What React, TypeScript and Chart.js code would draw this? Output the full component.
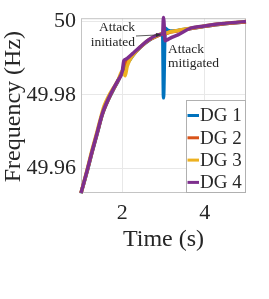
import React, { useEffect, useRef } from 'react';
import { Chart, registerables } from 'chart.js';

Chart.register(...registerables);

const time = [1.0, 1.15, 1.27, 1.39, 1.51, 1.56, 1.66, 1.78, 1.9, 2.0, 2.04, 2.07, 2.12, 2.25, 2.44, 2.65, 2.89, 2.98, 3.0, 3.04, 3.1, 3.2, 3.35, 3.66, 4.0, 4.32, 4.66, 5.0];

const dg1 = [49.9533, 49.9593, 49.9645, 49.9694, 49.9744, 49.976, 49.9786, 49.9813, 49.9838, 49.9862, 49.987, 49.9875, 49.9884, 49.9906, 49.9929, 49.9948, 49.9962, 49.9966, 49.9792, 49.9981, 49.9976, 49.9973, 49.9975, 49.998, 49.9986, 49.9991, 49.9995, 49.9998];
const dg2 = [49.9534, 49.9594, 49.9646, 49.9695, 49.9745, 49.9761, 49.9787, 49.9814, 49.9839, 49.9863, 49.988, 49.9886, 49.9892, 49.9908, 49.993, 49.9949, 49.9962, 49.9966, 49.9968, 49.9966, 49.9968, 49.9971, 49.9974, 49.998, 49.9986, 49.9991, 49.9995, 49.9998];
const dg3 = [49.9534, 49.9598, 49.9652, 49.9701, 49.9752, 49.977, 49.9795, 49.9818, 49.984, 49.9865, 49.986, 49.9852, 49.9878, 49.9906, 49.993, 49.995, 49.9963, 49.9967, 49.9969, 49.9967, 49.9969, 49.9972, 49.9975, 49.9981, 49.9987, 49.9992, 49.9996, 49.9999];
const dg4 = [49.9534, 49.9596, 49.9648, 49.9697, 49.9747, 49.9763, 49.9789, 49.9816, 49.984, 49.9864, 49.9893, 49.9896, 49.9899, 49.9912, 49.9931, 49.995, 49.9963, 49.9967, 50.001, 49.9947, 49.995, 49.9956, 49.9963, 49.9981, 49.9987, 49.9992, 49.9996, 49.9999];

const seriesNames = ['DG 1', 'DG 2', 'DG 3', 'DG 4'];
const seriesColors = ['#0072BD', '#D95319', '#EDB120', '#7E2F8E'];
const seriesValues = [dg1, dg2, dg3, dg4];

const xTicks = [2, 4];
const yTicks = [49.96, 49.98, 50];
const xTitle = 'Time (s)';
const yTitle = 'Frequency (Hz)';
const initiatedText = ['Attack', 'initiated'];
const mitigatedText = ['Attack', 'mitigated'];
const arrowTip = { t: 2.93, f: 49.9963 };

const SERIF = '"Liberation Serif", "Times New Roman", "DejaVu Serif", serif';
const TEXT = '#262626';

const overlay = {
  id: 'overlay',
  beforeDatasetsDraw(chart: any) {
    const { ctx, chartArea: a } = chart;
    ctx.save();
    ctx.strokeStyle = '#c4c4c4';
    ctx.lineWidth = 1;
    ctx.strokeRect(a.left + 0.5, a.top + 0.5, a.right - a.left - 1, a.bottom - a.top - 1);
    ctx.restore();
  },
  afterDatasetsDraw(chart: any) {
    const { ctx, chartArea: a, scales } = chart;
    ctx.save();
    ctx.fillStyle = TEXT;
    ctx.font = `24px ${SERIF}`;
    ctx.textAlign = 'center';
    ctx.textBaseline = 'middle';
    ctx.fillText(xTitle, (a.left + a.right) / 2, 240);
    ctx.save();
    ctx.translate(14, (a.top + a.bottom) / 2 + 1);
    ctx.rotate(-Math.PI / 2);
    ctx.fillText(yTitle, 0, 0);
    ctx.restore();

    ctx.font = `13.5px ${SERIF}`;
    ctx.textAlign = 'right';
    ctx.fillText(initiatedText[0], 135, 27);
    ctx.fillText(initiatedText[1], 135, 42);
    ctx.textAlign = 'left';
    ctx.fillText(mitigatedText[0], 168, 49);
    ctx.fillText(mitigatedText[1], 168, 63);

    const tx = scales.x.getPixelForValue(arrowTip.t);
    const ty = scales.y.getPixelForValue(arrowTip.f);
    const sx = 136, sy = 36;
    ctx.strokeStyle = '#333';
    ctx.lineWidth = 0.8;
    ctx.beginPath();
    ctx.moveTo(sx, sy);
    ctx.lineTo(tx, ty);
    ctx.stroke();
    const ang = Math.atan2(ty - sy, tx - sx);
    ctx.beginPath();
    ctx.moveTo(tx, ty);
    ctx.lineTo(tx - 5 * Math.cos(ang - 0.4), ty - 5 * Math.sin(ang - 0.4));
    ctx.lineTo(tx - 5 * Math.cos(ang + 0.4), ty - 5 * Math.sin(ang + 0.4));
    ctx.closePath();
    ctx.fillStyle = '#333';
    ctx.fill();

    const lx = 186, ly = 100, lw = a.right - 186, lh = a.bottom - 100;
    ctx.fillStyle = '#ffffff';
    ctx.fillRect(lx, ly, lw, lh);
    ctx.strokeStyle = '#b0b0b0';
    ctx.lineWidth = 1;
    ctx.strokeRect(lx + 0.5, ly + 0.5, lw - 1, lh - 1);
    ctx.font = `19px ${SERIF}`;
    ctx.textAlign = 'left';
    ctx.textBaseline = 'middle';
    seriesNames.forEach((name, i) => {
      const y = 115.5 + i * 22.3;
      ctx.strokeStyle = seriesColors[i];
      ctx.lineWidth = 3;
      ctx.beginPath();
      ctx.moveTo(lx + 1.5, y);
      ctx.lineTo(lx + 13, y);
      ctx.stroke();
      ctx.fillStyle = TEXT;
      ctx.fillText(name, lx + 14, y + 1);
    });
    ctx.restore();
  },
};

export default function App() {
  const ref = useRef<HTMLCanvasElement>(null);
  useEffect(() => {
    document.body.style.margin = '0';
    const order = [3, 2, 1, 0];
    const chart = new Chart(ref.current!, {
      type: 'line',
      data: {
        datasets: seriesValues.map((vals, i) => ({
          label: seriesNames[i],
          data: time.map((t, k) => ({ x: t, y: vals[k] })),
          borderColor: seriesColors[i],
          backgroundColor: seriesColors[i],
          borderWidth: 3.5,
          pointRadius: 0,
          cubicInterpolationMode: 'monotone' as const,
          borderJoinStyle: 'round' as const,
          borderCapStyle: 'butt' as const,
          order: order[i],
          clip: false as any,
        })),
      },
      options: {
        responsive: false,
        animation: false,
        devicePixelRatio: 1,
        layout: { padding: { left: 0, right: 23, top: 14, bottom: 0 } },
        plugins: { legend: { display: false }, tooltip: { enabled: false } },
        scales: {
          x: {
            type: 'linear',
            min: 1,
            max: 5,
            afterBuildTicks: (s: any) => { s.ticks = xTicks.map((v) => ({ value: v })); },
            afterFit: (s: any) => { s.height = 106; },
            grid: { color: '#e8e8e8', drawTicks: false },
            border: { display: false },
            ticks: {
              padding: 7,
              color: TEXT,
              font: { family: SERIF, size: 22 },
              callback: (v: any) => String(v),
              maxRotation: 0,
            },
          },
          y: {
            type: 'linear',
            min: 49.9534,
            max: 50.0008,
            afterBuildTicks: (s: any) => { s.ticks = yTicks.map((v) => ({ value: v })); },
            afterFit: (s: any) => { s.width = 81; },
            grid: { color: '#e8e8e8', drawTicks: false },
            border: { display: false },
            ticks: {
              padding: 5,
              color: TEXT,
              font: { family: SERIF, size: 22 },
              callback: (v: any) => (Math.abs(v - 50) < 1e-9 ? '50' : Number(v).toFixed(2)),
            },
          },
        },
      },
      plugins: [overlay],
    });
    return () => chart.destroy();
  }, []);
  return (
    <div style={{ position: 'fixed', left: 0, top: 0, width: 269, height: 299, background: '#fff' }}>
      <canvas ref={ref} width={269} height={299} style={{ display: 'block' }} />
    </div>
  );
}
